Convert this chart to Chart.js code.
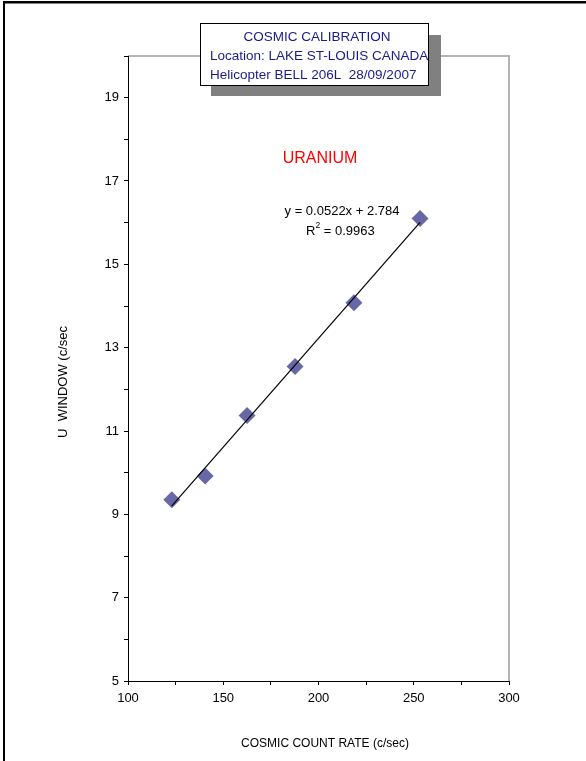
<!DOCTYPE html>
<html>
<head>
<meta charset="utf-8">
<script src="https://cdn.jsdelivr.net/npm/chart.js@4/dist/chart.umd.min.js"></script>
<style>
  body { margin: 0; background: #fff; }
  canvas { display: block; }
</style>
</head>
<body>
<canvas id="cosmicChart" width="586" height="761"></canvas>
<script>
// Datos (tasa cósmica vs ventana U)
const cosmicRate = [123, 140.5, 162.5, 187.7, 218.6, 253.3];
const uWindow = [9.35, 9.92, 11.37, 12.55, 14.08, 16.1];

// Recta de tendencia: y = 0.0522x + 2.784
const trendCoef = [0.0522, 2.784];
const trendText = ['y = 0.0522x + 2.784', '0.9963'];

// Textos del recuadro y de los ejes
const boxLines = ['COSMIC CALIBRATION', 'Location: LAKE ST-LOUIS CANADA', 'Helicopter BELL 206L  28/09/2007'];
const axisTitles = ['COSMIC COUNT RATE (c/sec)', 'U  WINDOW (c/sec'];

const xMin = Math.min(...cosmicRate);
const xMax = Math.max(...cosmicRate);
const trendData = [xMin, xMax].map(x => ({ x: x, y: trendCoef[0] * x + trendCoef[1] }));

const FAMILY = 'Arial, "Liberation Sans", sans-serif';
Chart.defaults.font.family = FAMILY;
Chart.defaults.color = '#000';

// Plugin para el marco, el recuadro y las anotaciones
const extras = {
    id: 'extras',
    beforeDraw(chart) {
        const ctx = chart.ctx;
        const a = chart.chartArea;
        ctx.save();
        ctx.fillStyle = '#fff';
        ctx.fillRect(0, 0, chart.width, chart.height);
        // borde gris arriba y a la derecha del área del gráfico
        ctx.strokeStyle = '#b4b4b4';
        ctx.lineWidth = 2;
        ctx.beginPath();
        ctx.moveTo(a.left, a.top);
        ctx.lineTo(a.right, a.top);
        ctx.lineTo(a.right, a.bottom);
        ctx.stroke();
        ctx.restore();
    },
    afterDraw(chart) {
        const ctx = chart.ctx;
        ctx.save();
        // marco negro de la página
        ctx.fillStyle = '#000';
        ctx.fillRect(3, 1, chart.width, 2.5);
        ctx.fillRect(3, 1, 2, chart.height);

        // títulos de los ejes
        ctx.fillStyle = '#000';
        ctx.textBaseline = 'middle';
        ctx.textAlign = 'center';
        ctx.font = '12px ' + FAMILY;
        ctx.fillText(axisTitles[0], 325, 744);
        ctx.save();
        ctx.translate(63, 382);
        ctx.rotate(-Math.PI / 2);
        ctx.font = '13px ' + FAMILY;
        ctx.fillText(axisTitles[1], 0, 0);
        ctx.restore();

        // sombra y recuadro del título
        ctx.fillStyle = '#808080';
        ctx.fillRect(211, 35, 230, 61);
        ctx.fillStyle = '#fff';
        ctx.fillRect(200, 23, 228, 62);
        ctx.strokeStyle = '#000';
        ctx.lineWidth = 1;
        ctx.strokeRect(200.5, 23.5, 228, 62);

        ctx.font = '13.5px ' + FAMILY;
        ctx.fillStyle = '#1a1a8c';
        ctx.textAlign = 'center';
        ctx.fillText(boxLines[0], 317, 37);
        ctx.textAlign = 'left';
        ctx.fillText(boxLines[1], 210, 56);
        ctx.fillText(boxLines[2], 210, 75);

        // URANIUM
        ctx.fillStyle = '#ff0000';
        ctx.font = '16px ' + FAMILY;
        ctx.textAlign = 'center';
        ctx.fillText('URANIUM', 320, 159);

        // ecuación y R²
        ctx.fillStyle = '#000';
        ctx.font = '13px ' + FAMILY;
        ctx.fillText(trendText[0], 342, 211);
        ctx.textAlign = 'left';
        let x = 306;
        ctx.fillText('R', x, 231);
        x += ctx.measureText('R').width;
        ctx.font = '8.5px ' + FAMILY;
        ctx.fillText('2', x, 226);
        x += ctx.measureText('2').width;
        ctx.font = '13px ' + FAMILY;
        ctx.fillText(' = ' + trendText[1], x, 231);
        ctx.restore();
    }
};

const ctx = document.getElementById('cosmicChart').getContext('2d');

new Chart(ctx, {
    type: 'scatter',
    data: {
        datasets: [{
            label: 'U window',
            data: cosmicRate.map((x, i) => ({ x: x, y: uWindow[i] })),
            pointStyle: 'rectRot',
            pointRadius: 8.5,
            pointHoverRadius: 8.5,
            backgroundColor: '#6868a6',
            borderColor: '#6868a6',
            borderWidth: 0,
            order: 2
        }, {
            label: 'Trend',
            type: 'line',
            data: trendData,
            borderColor: '#000',
            borderWidth: 1.2,
            pointRadius: 0,
            fill: false,
            order: 1
        }]
    },
    options: {
        responsive: false,
        animation: false,
        layout: { padding: { top: 56, right: 77, left: 0, bottom: 0 } },
        plugins: {
            legend: { display: false },
            tooltip: { enabled: false }
        },
        scales: {
            x: {
                type: 'linear',
                min: 100,
                max: 300,
                afterFit: scale => { scale.height = 80; },
                ticks: {
                    stepSize: 25,
                    autoSkip: false,
                    maxRotation: 0,
                    padding: 6,
                    font: { size: 13 },
                    callback: v => (v % 50 === 0 ? v : '')
                },
                grid: {
                    display: true,
                    drawOnChartArea: false,
                    tickLength: 4,
                    tickColor: '#000'
                },
                border: { display: true, color: '#000', width: 1 }
            },
            y: {
                min: 5,
                max: 20,
                afterFit: scale => { scale.width = 128; },
                ticks: {
                    stepSize: 1,
                    autoSkip: false,
                    padding: 5,
                    font: { size: 13 },
                    callback: v => (v % 2 === 1 ? v : '')
                },
                grid: {
                    display: true,
                    drawOnChartArea: false,
                    tickLength: 4,
                    tickColor: '#000'
                },
                border: { display: true, color: '#000', width: 1 }
            }
        }
    },
    plugins: [extras]
});
</script>
</body>
</html>
